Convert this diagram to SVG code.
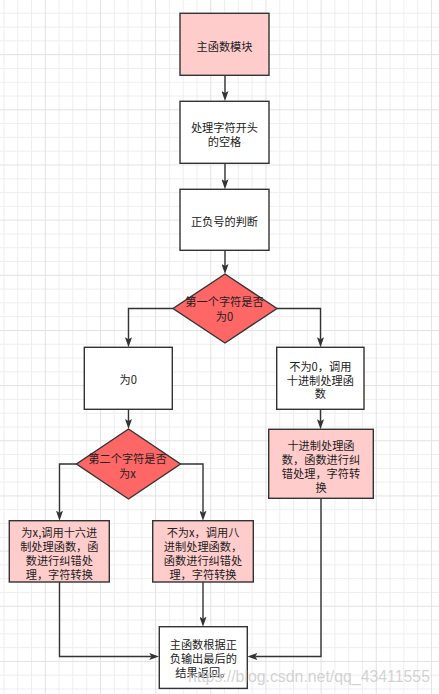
<svg xmlns="http://www.w3.org/2000/svg" width="439" height="694" viewBox="0 0 439 694">
<style>
.box{stroke:#333333;stroke-width:1.4}
.w{fill:#ffffff}
.p{fill:#ffcccc}
.d{fill:#ff6666}
.t{font-family:"Noto Sans CJK SC","Noto Sans",sans-serif;font-size:11.2px;fill:#222222;text-anchor:middle;dominant-baseline:central}
.c{fill:none;stroke:#333333;stroke-width:1.4}
.wm{font-family:"Liberation Sans",Arial,sans-serif;font-size:15.6px;fill:#c4c4c4;fill-opacity:0.75}
</style>
<defs>
<pattern id="grid" patternUnits="userSpaceOnUse" x="44.8" y="-1" width="55.16" height="55.16">
<path d="M14.29,0V55.16M28.08,0V55.16M41.87,0V55.16M0,14.29H55.16M0,28.08H55.16M0,41.87H55.16" stroke="#eeeeee" stroke-width="1"/>
<path d="M0.5,0V55.16M0,0.5H55.16" stroke="#e2e2e2" stroke-width="1"/>
</pattern>
<marker id="ah" markerUnits="userSpaceOnUse" viewBox="0 0 10 7" refX="2" refY="3.5" markerWidth="10" markerHeight="7" orient="auto">
<path d="M0,0L10,3.5L0,7L2,3.5Z" fill="#333333"/>
</marker>
</defs>
<rect width="439" height="694" fill="#ffffff"/>
<rect width="439" height="694" fill="url(#grid)"/>
<g id="connectors">
<path class="c" marker-end="url(#ah)" d="M225,75V93"/>
<path class="c" marker-end="url(#ah)" d="M225,163.3V181.3"/>
<path class="c" marker-end="url(#ah)" d="M225,250V266"/>
<path class="c" marker-end="url(#ah)" d="M173,308.5H128.5V339.3"/>
<path class="c" marker-end="url(#ah)" d="M277,308.5H320.5V339.3"/>
<path class="c" marker-end="url(#ah)" d="M128.5,409.3V421"/>
<path class="c" marker-end="url(#ah)" d="M320.5,409.3V421.3"/>
<path class="c" marker-end="url(#ah)" d="M76.5,464H59.5V512.7"/>
<path class="c" marker-end="url(#ah)" d="M180.5,464H203V512.7"/>
<path class="c" marker-end="url(#ah)" d="M59.5,582V656.5H151.3"/>
<path class="c" marker-end="url(#ah)" d="M203,582V618.7"/>
<path class="c" marker-end="url(#ah)" d="M321,498.3V656.5H255.3"/>
</g>
<g id="n1"><rect class="box p" x="180" y="13.3" width="89" height="62"/><text class="t" x="224.5" y="45.5">主函数模块</text></g>
<g id="n2"><rect class="box w" x="180" y="101.3" width="89" height="62"/><text class="t" x="224.5" y="126.5">处理字符开头</text><text class="t" x="224.5" y="140.7">的空格</text></g>
<g id="n3"><rect class="box w" x="180" y="189.3" width="89" height="61"/><text class="t" x="224.5" y="221">正负号的判断</text></g>
<g id="d1"><polygon class="box d" points="225,274 277,308.5 225,343 173,308.5"/><text class="t" x="224.5" y="301">第一个字符是否</text><text class="t" x="224.5" y="315.5">为0</text></g>
<g id="n4"><rect class="box w" x="84.3" y="347.3" width="88" height="62"/><text class="t" x="128.3" y="379.3">为0</text></g>
<g id="n5"><rect class="box w" x="276.7" y="347.3" width="87.3" height="62"/><text class="t" x="320.3" y="366">不为0，调用</text><text class="t" x="320.3" y="379.6">十进制处理函</text><text class="t" x="320.3" y="393.3">数</text></g>
<g id="n6"><rect class="box p" x="268.7" y="429.3" width="104.6" height="69"/><text class="t" x="321" y="444.5">十进制处理函</text><text class="t" x="321" y="458.7">数，函数进行纠</text><text class="t" x="321" y="472.7">错处理，字符转</text><text class="t" x="321" y="486.7">换</text></g>
<g id="d2"><polygon class="box d" points="128.5,429 180.5,464 128.5,499 76.5,464"/><text class="t" x="127.5" y="458.3">第二个字符是否</text><text class="t" x="127.5" y="472.7">为x</text></g>
<g id="n7"><rect class="box p" x="9.3" y="520.7" width="100" height="61.3"/><text class="t" x="59.3" y="531.7">为x,调用十六进</text><text class="t" x="59.3" y="545.7">制处理函数，函</text><text class="t" x="59.3" y="559.7">数进行纠错处</text><text class="t" x="59.3" y="573.5">理，字符转换</text></g>
<g id="n8"><rect class="box p" x="152.7" y="520.7" width="100.6" height="61.3"/><text class="t" x="203" y="531.7">不为x，调用八</text><text class="t" x="203" y="545.7">进制处理函数，</text><text class="t" x="203" y="559.7">函数进行纠错处</text><text class="t" x="203" y="573.5">理，字符转换</text></g>
<g id="n9"><rect class="box w" x="159.3" y="626.7" width="88" height="61.7"/><text class="t" x="203.3" y="644.3">主函数根据正</text><text class="t" x="203.3" y="658.3">负输出最后的</text><text class="t" x="203.3" y="672.3">结果返回。</text></g>
<text class="wm" x="188" y="681.5" textLength="242" lengthAdjust="spacingAndGlyphs">https://blog.csdn.net/qq_43411555</text>
</svg>
